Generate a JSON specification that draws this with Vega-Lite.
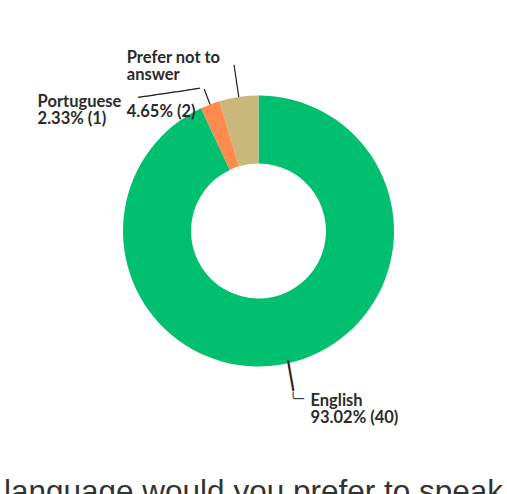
{
  "$schema": "https://vega.github.io/schema/vega-lite/v6.json",
  "width": 507,
  "height": 462,
  "padding": {"left": 3, "top": 0, "right": 0, "bottom": 0},
  "background": "white",
  "config": {"view": {"stroke": null}},
  "title": {
    "text": "language would you prefer to speak",
    "orient": "bottom",
    "anchor": "middle",
    "font": "Liberation Sans",
    "fontSize": 31.5,
    "fontWeight": "normal",
    "color": "#333333",
    "offset": 14.6,
    "dx": -5
  },
  "data": {
    "values": [
      {"answer": "English", "label": "English", "count": 40, "share": "93.02% (40)"},
      {"answer": "Portuguese", "label": "Portuguese", "count": 1, "share": "2.33% (1)"},
      {"answer": "Prefer not to answer", "label": "Prefer not to\nanswer", "count": 2, "share": "4.65% (2)"}
    ]
  },
  "encoding": {
    "theta": {"field": "count", "type": "quantitative", "stack": true},
    "order": {"field": "answer", "type": "ordinal", "sort": "ascending"},
    "detail": {"field": "answer", "type": "nominal"}
  },
  "layer": [
    {
      "mark": {"type": "arc", "innerRadius": 67.5, "outerRadius": 135.5},
      "encoding": {
        "color": {
          "field": "answer",
          "type": "nominal",
          "scale": {
            "domain": ["English", "Portuguese", "Prefer not to answer"],
            "range": ["#00BF6F", "#FF8B4F", "#C9B87A"]
          },
          "legend": null
        }
      }
    },
    {
      "mark": {"type": "arc", "innerRadius": 135.5, "outerRadius": 168, "padAngle": 3.2, "filled": false, "stroke": "#222222", "strokeWidth": 1.2},
      "encoding": {
        "strokeOpacity": {"condition": {"test": "datum.answer === 'Prefer not to answer'", "value": 1}, "value": 0}
      }
    },
    {
      "mark": {"type": "arc", "innerRadius": 135.5, "outerRadius": 152, "padAngle": 3.2, "filled": false, "stroke": "#222222", "strokeWidth": 1.2},
      "encoding": {
        "strokeOpacity": {"condition": {"test": "datum.answer === 'Portuguese'", "value": 1}, "value": 0}
      }
    },
    {
      "mark": {"type": "text", "radius": 135.5, "dx": -39, "dy": -17, "align": "center", "baseline": "middle", "angle": -8.4, "font": "DejaVu Sans Mono", "fontSize": 13, "color": "#222222"},
      "encoding": {
        "text": {"condition": {"test": "datum.answer === 'Portuguese'", "value": "────────"}, "value": ""}
      }
    },
    {
      "mark": {"type": "text", "radius": 149, "align": "center", "baseline": "middle", "angle": -10, "font": "DejaVu Sans Mono", "fontSize": 26, "color": "#222222"},
      "encoding": {
        "text": {"condition": {"test": "datum.answer === 'English'", "value": "│"}, "value": ""}
      }
    },
    {
      "mark": {"type": "text", "radius": 135.5, "dx": 1.5, "dy": 36, "align": "left", "baseline": "middle", "font": "DejaVu Sans Mono", "fontSize": 12, "color": "#222222"},
      "encoding": {
        "text": {"condition": {"test": "datum.answer === 'English'", "value": "╰─"}, "value": ""}
      }
    },
    {
      "mark": {"type": "text", "radius": 135.5, "dx": -112, "dy": -34, "align": "left", "baseline": "alphabetic", "lineBreak": "\n", "lineHeight": 17, "font": "Lato", "fontWeight": 700, "fontSize": 16.5, "color": "#2b2b2b"},
      "encoding": {
        "text": {"condition": {"test": "datum.answer === 'Prefer not to answer'", "field": "label"}, "value": ""}
      }
    },
    {
      "mark": {"type": "text", "radius": 135.5, "dx": -112, "dy": 20, "align": "left", "baseline": "alphabetic", "font": "Lato", "fontWeight": 700, "fontSize": 16.5, "color": "#2b2b2b"},
      "encoding": {
        "text": {"condition": {"test": "datum.answer === 'Prefer not to answer'", "field": "share"}, "value": ""}
      }
    },
    {
      "mark": {"type": "text", "radius": 135.5, "dx": -172.5, "dy": 2.6, "align": "left", "baseline": "alphabetic", "font": "Lato", "fontWeight": 700, "fontSize": 16.5, "color": "#2b2b2b"},
      "encoding": {
        "text": {"condition": {"test": "datum.answer === 'Portuguese'", "field": "label"}, "value": ""}
      }
    },
    {
      "mark": {"type": "text", "radius": 135.5, "dx": -172.5, "dy": 19.6, "align": "left", "baseline": "alphabetic", "font": "Lato", "fontWeight": 700, "fontSize": 16.5, "color": "#2b2b2b"},
      "encoding": {
        "text": {"condition": {"test": "datum.answer === 'Portuguese'", "field": "share"}, "value": ""}
      }
    },
    {
      "mark": {"type": "text", "radius": 135.5, "dx": 22.5, "dy": 43, "align": "left", "baseline": "alphabetic", "font": "Lato", "fontWeight": 700, "fontSize": 16.5, "color": "#2b2b2b"},
      "encoding": {
        "text": {"condition": {"test": "datum.answer === 'English'", "field": "label"}, "value": ""}
      }
    },
    {
      "mark": {"type": "text", "radius": 135.5, "dx": 22.5, "dy": 59.5, "align": "left", "baseline": "alphabetic", "font": "Lato", "fontWeight": 700, "fontSize": 16.5, "color": "#2b2b2b"},
      "encoding": {
        "text": {"condition": {"test": "datum.answer === 'English'", "field": "share"}, "value": ""}
      }
    }
  ]
}
